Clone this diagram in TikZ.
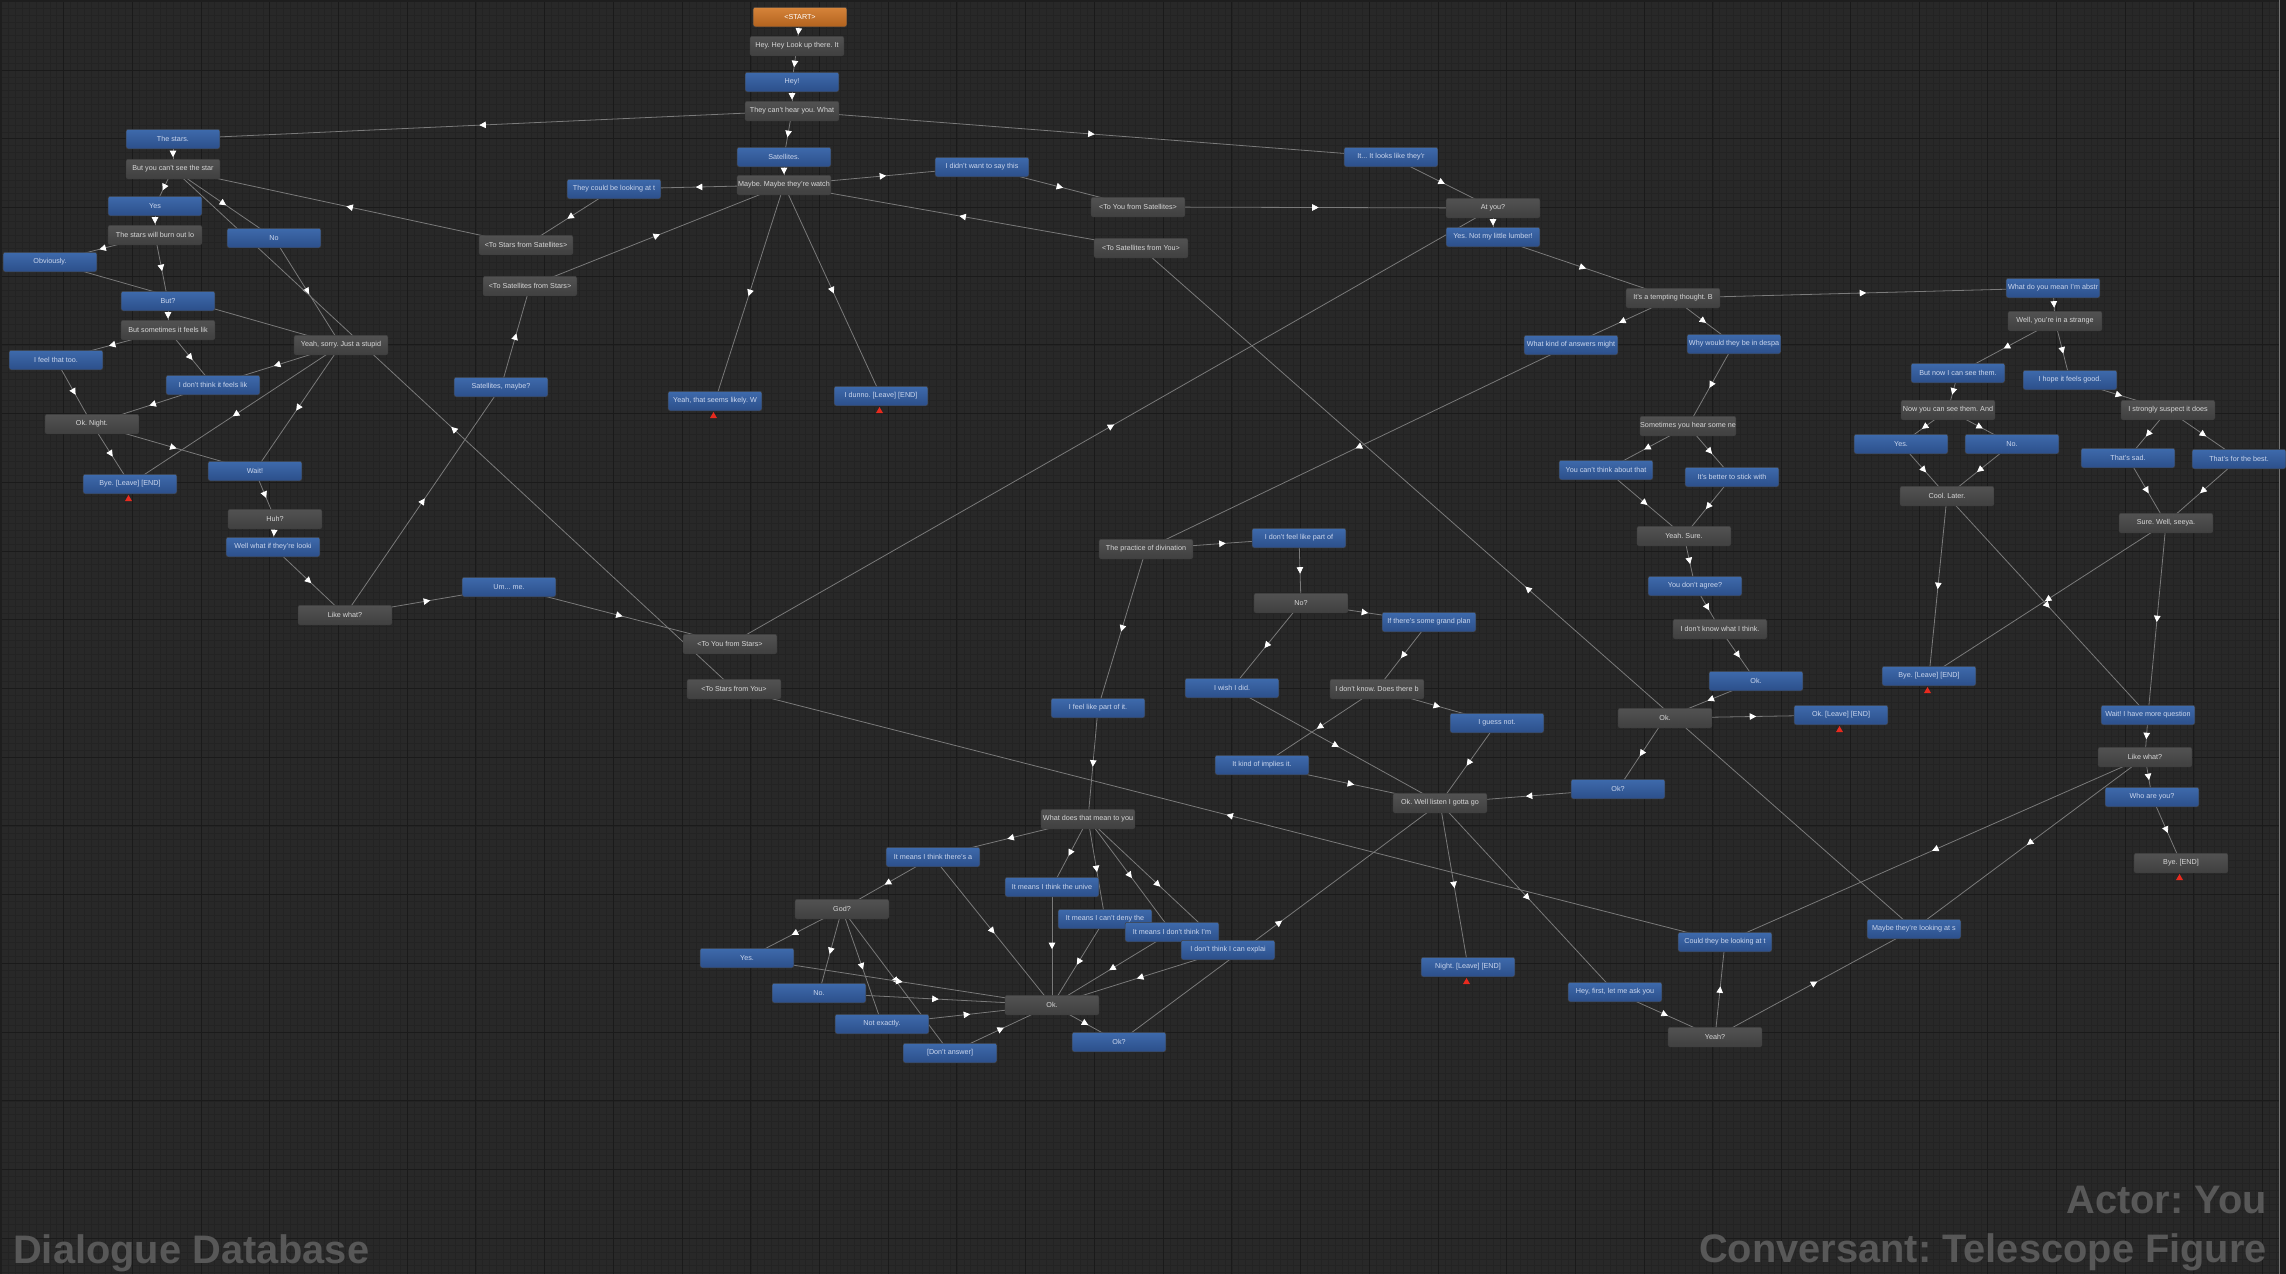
\documentclass[tikz,border=0pt]{standalone}
\usepackage{fontspec}
\setmainfont{Liberation Sans}
\usetikzlibrary{arrows.meta,decorations.markings,calc}
\frenchspacing

\definecolor{canvas}{RGB}{40,40,40}
\definecolor{minorline}{RGB}{35,35,35}
\definecolor{majorline}{RGB}{26,26,26}
\definecolor{edgedark}{RGB}{30,30,30}
\definecolor{linkgray}{RGB}{122,122,122}
\definecolor{bluetop}{RGB}{62,106,172}
\definecolor{bluebot}{RGB}{44,79,138}
\definecolor{graytop}{RGB}{82,82,82}
\definecolor{graybot}{RGB}{64,64,64}
\definecolor{orangetop}{RGB}{214,132,58}
\definecolor{orangebot}{RGB}{178,98,30}
\definecolor{bluetext}{RGB}{202,214,238}
\definecolor{graytext}{RGB}{216,216,216}
\definecolor{endred}{RGB}{232,42,30}
\definecolor{watermark}{RGB}{88,88,88}

\pgfdeclarelayer{grid}
\pgfdeclarelayer{links}
\pgfsetlayers{grid,links,main}

\tikzset{
  dbox/.style={rectangle, rounded corners=2pt, minimum width=93.6pt, minimum height=19.5pt,
    inner sep=0pt, draw=black!75, line width=0.5pt, font=\fontsize{7.2}{8}\selectfont},
  pcbox/.style={dbox, top color=bluetop, bottom color=bluebot, text=bluetext},
  npcbox/.style={dbox, top color=graytop, bottom color=graybot, text=graytext},
  startbox/.style={dbox, top color=orangetop, bottom color=orangebot, text=white},
  dlink/.style={linkgray, line width=0.8pt, postaction={decorate},
    decoration={markings, mark=at position 0.5 with {\arrow[white,xshift=3.2pt]{Triangle[length=6.5pt,width=6.5pt]}}}},
  wmark/.style={inner sep=0pt, text=watermark, font=\bfseries\fontsize{39.8}{44}\selectfont}
}

\newcommand{\EditorGrid}{%
  \fill[canvas] (0,0) rectangle (2286,1274);
  \draw[minorline, line width=0.6pt] \foreach \k in {0,...,332} {({1.75+\k*6.872},0) -- ++(0,1274)};
  \draw[minorline, line width=0.6pt] \foreach \k in {0,...,185} {(0,{1.28+\k*6.872}) -- ++(2286,0)};
  \draw[majorline, line width=1pt] \foreach \k in {1,...,33} {({-5.12+\k*68.72},0) -- ++(0,1274)};
  \draw[majorline, line width=1pt] \foreach \k in {0,...,18} {(0,{1.28+\k*68.72}) -- ++(2286,0)};
  \fill[edgedark] (0,0) rectangle (2286,2);
  \fill[edgedark] (0,0) rectangle (2,1274);
  \fill[edgedark] (2279,0) rectangle (2286,1274);
  \draw[black!55, line width=0.8pt] (2279,0) -- (2279,1274);
}

\newcommand{\EndMark}[1]{%
  \fill[endred] ($(#1.south)+(-1.5,1)$) -- ++(3.5,6) -- ++(-7,0) -- cycle;
}

\begin{document}
\begin{tikzpicture}[x=1pt,y=-1pt]
  \useasboundingbox (0,0) rectangle (2286,1274);
  \begin{pgfonlayer}{grid}
    \EditorGrid
  \end{pgfonlayer}

  \node[startbox] (start)      at (800,17)   {<START>};
  \node[npcbox]   (hey1)       at (797,46)   {Hey. Hey Look up there. It};
  \node[pcbox]    (hey2)       at (792,82)   {Hey!};
  \node[npcbox]   (cant)       at (792,111)  {They can't hear you. What};

  \node[pcbox]    (stars)      at (173,139)  {The stars.};
  \node[npcbox]   (cantsee)    at (173,169)  {But you can't see the star};
  \node[pcbox]    (yesA)       at (155,206)  {Yes};
  \node[npcbox]   (burn)       at (155,235)  {The stars will burn out lo};
  \node[pcbox]    (noA)        at (274,238)  {No};
  \node[pcbox]    (obv)        at (50,262)   {Obviously.};
  \node[pcbox]    (but)        at (168,301)  {But?};
  \node[npcbox]   (sometimes)  at (168,330)  {But sometimes it feels lik};
  \node[pcbox]    (feeltoo)    at (56,360)   {I feel that too.};
  \node[npcbox]   (sorry)      at (341,345)  {Yeah, sorry. Just a stupid};
  \node[pcbox]    (dontthink)  at (213,385)  {I don't think it feels lik};
  \node[npcbox]   (night)      at (92,424)   {Ok. Night.};
  \node[pcbox]    (byeA)       at (130,484)  {Bye. [Leave] [END]};
  \node[pcbox]    (wait)       at (255,471)  {Wait!};
  \node[npcbox]   (huh)        at (275,519)  {Huh?};
  \node[pcbox]    (wellwhat)   at (273,547)  {Well what if they're looki};
  \node[npcbox]   (likewhatA)  at (345,615)  {Like what?};
  \node[pcbox]    (umme)       at (509,587)  {Um... me.};
  \node[pcbox]    (satmaybe)   at (501,387)  {Satellites, maybe?};
  \node[npcbox]   (tostarsfs)  at (526,245)  {<To Stars from Satellites>};
  \node[npcbox]   (tosatfst)   at (530,286)  {<To Satellites from Stars>};
  \node[npcbox]   (toyoufst)   at (730,644)  {<To You from Stars>};
  \node[npcbox]   (tostarsfy)  at (734,689)  {<To Stars from You>};

  \node[pcbox]    (sats)       at (784,157)  {Satellites.};
  \node[npcbox]   (maybe)      at (784,185)  {Maybe. Maybe they're watch};
  \node[pcbox]    (couldbe)    at (614,189)  {They could be looking at t};
  \node[pcbox]    (didnt)      at (982,167)  {I didn't want to say this};
  \node[npcbox]   (toyoufs)    at (1138,207) {<To You from Satellites>};
  \node[npcbox]   (tosatfy)    at (1141,248) {<To Satellites from You>};
  \node[pcbox]    (likely)     at (715,401)  {Yeah, that seems likely. W};
  \node[pcbox]    (dunno)      at (881,396)  {I dunno. [Leave] [END]};

  \node[pcbox]    (looks)      at (1391,157) {It... It looks like they'r};
  \node[npcbox]   (atyou)      at (1493,208) {At you?};
  \node[pcbox]    (notmy)      at (1493,237) {Yes. Not my little lumber!};
  \node[npcbox]   (tempting)   at (1673,298) {It's a tempting thought. B};
  \node[pcbox]    (whatkind)   at (1571,345) {What kind of answers might};
  \node[pcbox]    (whydespa)   at (1734,344) {Why would they be in despa};
  \node[npcbox]   (sometimesyou) at (1688,426) {Sometimes you hear some ne};
  \node[pcbox]    (cantthink)  at (1606,470) {You can't think about that};
  \node[pcbox]    (better)     at (1732,477) {It's better to stick with};
  \node[npcbox]   (yeahsure)   at (1684,536) {Yeah. Sure.};
  \node[pcbox]    (agree)      at (1695,586) {You don't agree?};
  \node[npcbox]   (dontknowwhat) at (1720,629) {I don't know what I think.};
  \node[pcbox]    (okB)        at (1756,681) {Ok.};
  \node[npcbox]   (okA)        at (1665,718) {Ok.};
  \node[pcbox]    (okleave)    at (1841,715) {Ok. [Leave] [END]};
  \node[pcbox]    (okqA)       at (1618,789) {Ok?};

  \node[pcbox]    (whatmean)   at (2053,288) {What do you mean I'm abstr};
  \node[npcbox]   (strange)    at (2055,321) {Well, you're in a strange};
  \node[pcbox]    (butnow)     at (1958,373) {But now I can see them.};
  \node[pcbox]    (hope)       at (2070,380) {I hope it feels good.};
  \node[npcbox]   (nowyou)     at (1948,410) {Now you can see them. And};
  \node[npcbox]   (strongly)   at (2168,410) {I strongly suspect it does};
  \node[pcbox]    (yesB)       at (1901,444) {Yes.};
  \node[pcbox]    (noB)        at (2012,444) {No.};
  \node[pcbox]    (sad)        at (2128,458) {That's sad.};
  \node[pcbox]    (best)       at (2239,459) {That's for the best.};
  \node[npcbox]   (cool)       at (1947,496) {Cool. Later.};
  \node[npcbox]   (seeya)      at (2166,523) {Sure. Well, seeya.};
  \node[pcbox]    (byeB)       at (1929,676) {Bye. [Leave] [END]};
  \node[pcbox]    (waitmore)   at (2148,715) {Wait! I have more question};
  \node[npcbox]   (likewhatB)  at (2145,757) {Like what?};
  \node[pcbox]    (whoareyou)  at (2152,797) {Who are you?};
  \node[npcbox]   (byeend)     at (2181,863) {Bye. [END]};

  \node[npcbox]   (divination) at (1146,549) {The practice of divination};
  \node[pcbox]    (dontfeel)   at (1299,538) {I don't feel like part of};
  \node[npcbox]   (noC)        at (1301,603) {No?};
  \node[pcbox]    (grand)      at (1429,622) {If there's some grand plan};
  \node[pcbox]    (wish)       at (1232,688) {I wish I did.};
  \node[npcbox]   (dontknowdoes) at (1377,689) {I don't know. Does there b};
  \node[pcbox]    (guess)      at (1497,723) {I guess not.};
  \node[pcbox]    (implies)    at (1262,765) {It kind of implies it.};
  \node[npcbox]   (gotta)      at (1440,803) {Ok. Well listen I gotta go};
  \node[pcbox]    (nightend)   at (1468,967) {Night. [Leave] [END]};
  \node[pcbox]    (heyfirst)   at (1615,992) {Hey, first, let me ask you};
  \node[pcbox]    (couldthey)  at (1725,942) {Could they be looking at t};
  \node[npcbox]   (yeahq)      at (1715,1037) {Yeah?};
  \node[pcbox]    (maybelook)  at (1914,929) {Maybe they're looking at s};

  \node[pcbox]    (feelpart)   at (1098,708) {I feel like part of it.};
  \node[npcbox]   (whatdoes)   at (1088,819) {What does that mean to you};
  \node[pcbox]    (thinkthere) at (933,857)  {It means I think there's a};
  \node[pcbox]    (universe)   at (1052,887) {It means I think the unive};
  \node[pcbox]    (deny)       at (1105,919) {It means I can't deny the};
  \node[pcbox]    (dontthinkim) at (1172,932) {It means I don't think I'm};
  \node[pcbox]    (explain)    at (1228,950) {I don't think I can explai};
  \node[npcbox]   (god)        at (842,909)  {God?};
  \node[pcbox]    (yesC)       at (747,958)  {Yes.};
  \node[pcbox]    (noD)        at (819,993)  {No.};
  \node[pcbox]    (notexactly) at (882,1024) {Not exactly.};
  \node[pcbox]    (dontanswer) at (950,1053) {[Don't answer]};
  \node[npcbox]   (okC)        at (1052,1005) {Ok.};
  \node[pcbox]    (okqB)       at (1119,1042) {Ok?};

  \begin{pgfonlayer}{links}
    \draw[dlink] (start.center) -- (hey1.center);
    \draw[dlink] (hey1.center) -- (hey2.center);
    \draw[dlink] (hey2.center) -- (cant.center);
    \draw[dlink] (cant.center) -- (stars.center);
    \draw[dlink] (cant.center) -- (sats.center);
    \draw[dlink] (cant.center) -- (looks.center);

    \draw[dlink] (stars.center) -- (cantsee.center);
    \draw[dlink] (cantsee.center) -- (yesA.center);
    \draw[dlink] (cantsee.center) -- (noA.center);
    \draw[dlink] (yesA.center) -- (burn.center);
    \draw[dlink] (burn.center) -- (obv.center);
    \draw[dlink] (burn.center) -- (but.center);
    \draw[dlink] (obv.center) -- (sorry.center);
    \draw[dlink] (noA.center) -- (sorry.center);
    \draw[dlink] (but.center) -- (sometimes.center);
    \draw[dlink] (sometimes.center) -- (feeltoo.center);
    \draw[dlink] (sometimes.center) -- (dontthink.center);
    \draw[dlink] (feeltoo.center) -- (night.center);
    \draw[dlink] (dontthink.center) -- (night.center);
    \draw[dlink] (sorry.center) -- (dontthink.center);
    \draw[dlink] (sorry.center) -- (byeA.center);
    \draw[dlink] (sorry.center) -- (wait.center);
    \draw[dlink] (night.center) -- (byeA.center);
    \draw[dlink] (night.center) -- (wait.center);
    \draw[dlink] (wait.center) -- (huh.center);
    \draw[dlink] (huh.center) -- (wellwhat.center);
    \draw[dlink] (wellwhat.center) -- (likewhatA.center);
    \draw[dlink] (likewhatA.center) -- (umme.center);
    \draw[dlink] (likewhatA.center) -- (satmaybe.center);
    \draw[dlink] (satmaybe.center) -- (tosatfst.center);
    \draw[dlink] (tosatfst.center) -- (maybe.center);
    \draw[dlink] (umme.center) -- (toyoufst.center);
    \draw[dlink] (toyoufst.center) -- (atyou.center);
    \draw[dlink] (tostarsfy.center) -- (cantsee.center);
    \draw[dlink] (tostarsfs.center) -- (cantsee.center);
    \draw[dlink] (couldbe.center) -- (tostarsfs.center);

    \draw[dlink] (sats.center) -- (maybe.center);
    \draw[dlink] (maybe.center) -- (couldbe.center);
    \draw[dlink] (maybe.center) -- (didnt.center);
    \draw[dlink] (maybe.center) -- (likely.center);
    \draw[dlink] (maybe.center) -- (dunno.center);
    \draw[dlink] (didnt.center) -- (toyoufs.center);
    \draw[dlink] (toyoufs.center) -- (atyou.center);
    \draw[dlink] (tosatfy.center) -- (maybe.center);
    \draw[dlink] (maybelook.center) -- (tosatfy.center);

    \draw[dlink] (looks.center) -- (atyou.center);
    \draw[dlink] (atyou.center) -- (notmy.center);
    \draw[dlink] (notmy.center) -- (tempting.center);
    \draw[dlink] (tempting.center) -- (whatkind.center);
    \draw[dlink] (tempting.center) -- (whydespa.center);
    \draw[dlink] (tempting.center) -- (whatmean.center);
    \draw[dlink] (whatkind.center) -- (divination.center);
    \draw[dlink] (whydespa.center) -- (sometimesyou.center);
    \draw[dlink] (sometimesyou.center) -- (cantthink.center);
    \draw[dlink] (sometimesyou.center) -- (better.center);
    \draw[dlink] (cantthink.center) -- (yeahsure.center);
    \draw[dlink] (better.center) -- (yeahsure.center);
    \draw[dlink] (yeahsure.center) -- (agree.center);
    \draw[dlink] (agree.center) -- (dontknowwhat.center);
    \draw[dlink] (dontknowwhat.center) -- (okB.center);
    \draw[dlink] (okB.center) -- (okA.center);
    \draw[dlink] (okA.center) -- (okleave.center);
    \draw[dlink] (okA.center) -- (okqA.center);
    \draw[dlink] (okqA.center) -- (gotta.center);

    \draw[dlink] (whatmean.center) -- (strange.center);
    \draw[dlink] (strange.center) -- (butnow.center);
    \draw[dlink] (strange.center) -- (hope.center);
    \draw[dlink] (butnow.center) -- (nowyou.center);
    \draw[dlink] (hope.center) -- (strongly.center);
    \draw[dlink] (nowyou.center) -- (yesB.center);
    \draw[dlink] (nowyou.center) -- (noB.center);
    \draw[dlink] (strongly.center) -- (sad.center);
    \draw[dlink] (strongly.center) -- (best.center);
    \draw[dlink] (yesB.center) -- (cool.center);
    \draw[dlink] (noB.center) -- (cool.center);
    \draw[dlink] (sad.center) -- (seeya.center);
    \draw[dlink] (best.center) -- (seeya.center);
    \draw[dlink] (cool.center) -- (byeB.center);
    \draw[dlink] (cool.center) -- (waitmore.center);
    \draw[dlink] (seeya.center) -- (byeB.center);
    \draw[dlink] (seeya.center) -- (waitmore.center);
    \draw[dlink] (waitmore.center) -- (likewhatB.center);
    \draw[dlink] (likewhatB.center) -- (whoareyou.center);
    \draw[dlink] (likewhatB.center) -- (couldthey.center);
    \draw[dlink] (likewhatB.center) -- (maybelook.center);
    \draw[dlink] (whoareyou.center) -- (byeend.center);

    \draw[dlink] (divination.center) -- (dontfeel.center);
    \draw[dlink] (divination.center) -- (feelpart.center);
    \draw[dlink] (dontfeel.center) -- (noC.center);
    \draw[dlink] (noC.center) -- (grand.center);
    \draw[dlink] (noC.center) -- (wish.center);
    \draw[dlink] (grand.center) -- (dontknowdoes.center);
    \draw[dlink] (dontknowdoes.center) -- (guess.center);
    \draw[dlink] (dontknowdoes.center) -- (implies.center);
    \draw[dlink] (wish.center) -- (gotta.center);
    \draw[dlink] (implies.center) -- (gotta.center);
    \draw[dlink] (guess.center) -- (gotta.center);
    \draw[dlink] (gotta.center) -- (nightend.center);
    \draw[dlink] (gotta.center) -- (heyfirst.center);
    \draw[dlink] (heyfirst.center) -- (yeahq.center);
    \draw[dlink] (yeahq.center) -- (couldthey.center);
    \draw[dlink] (yeahq.center) -- (maybelook.center);
    \draw[dlink] (couldthey.center) -- (tostarsfy.center);

    \draw[dlink] (feelpart.center) -- (whatdoes.center);
    \draw[dlink] (whatdoes.center) -- (thinkthere.center);
    \draw[dlink] (whatdoes.center) -- (universe.center);
    \draw[dlink] (whatdoes.center) -- (deny.center);
    \draw[dlink] (whatdoes.center) -- (dontthinkim.center);
    \draw[dlink] (whatdoes.center) -- (explain.center);
    \draw[dlink] (thinkthere.center) -- (god.center);
    \draw[dlink] (thinkthere.center) -- (okC.center);
    \draw[dlink] (universe.center) -- (okC.center);
    \draw[dlink] (deny.center) -- (okC.center);
    \draw[dlink] (dontthinkim.center) -- (okC.center);
    \draw[dlink] (explain.center) -- (okC.center);
    \draw[dlink] (god.center) -- (yesC.center);
    \draw[dlink] (god.center) -- (noD.center);
    \draw[dlink] (god.center) -- (notexactly.center);
    \draw[dlink] (god.center) -- (dontanswer.center);
    \draw[dlink] (yesC.center) -- (okC.center);
    \draw[dlink] (noD.center) -- (okC.center);
    \draw[dlink] (notexactly.center) -- (okC.center);
    \draw[dlink] (dontanswer.center) -- (okC.center);
    \draw[dlink] (okC.center) -- (okqB.center);
    \draw[dlink] (okqB.center) -- (gotta.center);
  \end{pgfonlayer}

  \EndMark{likely}
  \EndMark{dunno}
  \EndMark{byeA}
  \EndMark{byeB}
  \EndMark{okleave}
  \EndMark{nightend}
  \EndMark{byeend}

  \node[wmark, anchor=base west] (dbname) at (13,1263)   {Dialogue Database};
  \node[wmark, anchor=base east] (actor)  at (2267,1213) {Actor: You};
  \node[wmark, anchor=base east] (conv)   at (2267,1262) {Conversant: Telescope Figure};
\end{tikzpicture}
\end{document}
